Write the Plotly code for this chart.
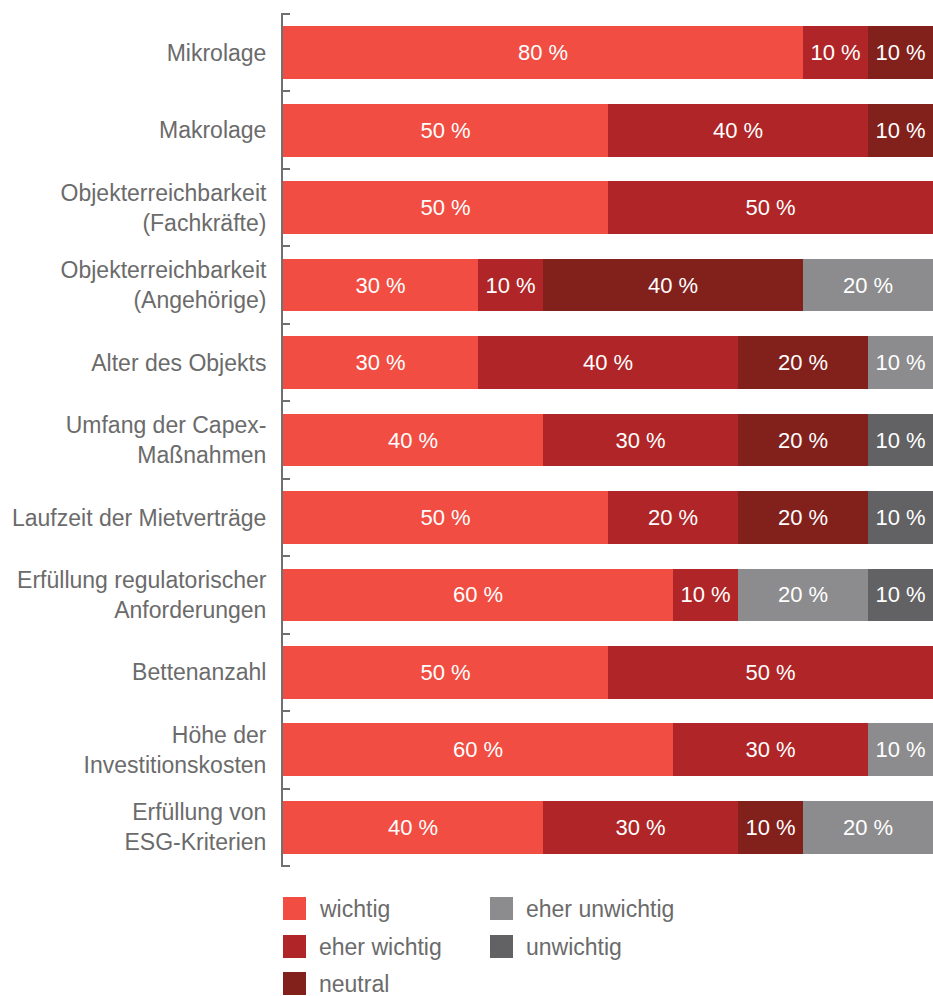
import plotly.graph_objects as go

categories = [
    "Mikrolage",
    "Makrolage",
    "Objekterreichbarkeit<br>(Fachkräfte)",
    "Objekterreichbarkeit<br>(Angehörige)",
    "Alter des Objekts",
    "Umfang der Capex-<br>Maßnahmen",
    "Laufzeit der Mietverträge",
    "Erfüllung regulatorischer<br>Anforderungen",
    "Bettenanzahl",
    "Höhe der<br>Investitionskosten",
    "Erfüllung von<br>ESG-Kriterien",
]

series_names = ["wichtig", "eher wichtig", "neutral", "eher unwichtig", "unwichtig"]

wichtig = [80, 50, 50, 30, 30, 40, 50, 60, 50, 60, 40]
eher_wichtig = [10, 40, 50, 10, 40, 30, 20, 10, 50, 30, 30]
neutral = [10, 10, 0, 40, 20, 20, 20, 0, 0, 0, 10]
eher_unwichtig = [0, 0, 0, 20, 10, 0, 0, 20, 0, 10, 20]
unwichtig = [0, 0, 0, 0, 0, 10, 10, 10, 0, 0, 0]

series_values = [wichtig, eher_wichtig, neutral, eher_unwichtig, unwichtig]
colors = ["#F14D42", "#B02527", "#82201C", "#8C8C8E", "#626264"]

FONT = "Liberation Sans, Arial, sans-serif"
TEXT_GREY = "#6B6B6B"
AXIS_GREY = "#707070"

# plot area in pixels
PL, PR, PT, PB = 283, 933, 13, 867
PW, PH = PR - PL, PB - PT

fig = go.Figure()
for name, vals, col in zip(series_names, series_values, colors):
    xs = [v if v > 0 else None for v in vals]
    fig.add_trace(go.Bar(
        y=categories,
        x=xs,
        orientation="h",
        name=name,
        marker=dict(color=col, line=dict(width=0)),
        text=[f"{v} %" if v > 0 else "" for v in vals],
        textposition="inside",
        insidetextanchor="middle",
        textangle=0,
        textfont=dict(family=FONT, size=22, color="white"),
        showlegend=False,
        hoverinfo="skip",
    ))

fig.update_layout(
    width=933,
    height=996,
    barmode="stack",
    bargap=0.32,
    plot_bgcolor="white",
    paper_bgcolor="white",
    margin=dict(l=PL, r=933 - PR, t=PT, b=996 - PB),
    uniformtext=dict(minsize=22, mode="show"),
    font=dict(family=FONT, color=TEXT_GREY, size=23),
    xaxis=dict(
        range=[0, 100],
        visible=False,
        fixedrange=True,
    ),
    yaxis=dict(
        type="category",
        autorange="reversed",
        tickson="boundaries",
        ticks="inside",
        ticklen=7,
        tickwidth=2,
        tickcolor=AXIS_GREY,
        showline=True,
        linecolor=AXIS_GREY,
        linewidth=2,
        showgrid=False,
        zeroline=False,
        ticklabelstandoff=10,
        tickfont=dict(family=FONT, size=23, color=TEXT_GREY),
    ),
)

# end caps of the category axis
for yy in (-0.5, len(categories) - 0.5):
    fig.add_shape(
        type="line", xref="paper", yref="y",
        x0=-1 / PW, x1=7 / PW, y0=yy, y1=yy,
        line=dict(color=AXIS_GREY, width=2), layer="above",
    )

# Legend drawn as colored squares with labels in two columns
legend_cols = [(0, 1, 2), (3, 4)]
col_x = [283, 490]
row_y = [897, 935, 972]
sq = 23
for ci, idxs in enumerate(legend_cols):
    for ri, idx in enumerate(idxs):
        x0 = col_x[ci]
        y0 = row_y[ri]
        fig.add_shape(
            type="rect", xref="paper", yref="paper",
            x0=(x0 - PL) / PW, x1=(x0 + sq - PL) / PW,
            y0=(PB - y0) / PH, y1=(PB - y0 - sq) / PH,
            fillcolor=colors[idx], line=dict(width=0), layer="above",
        )
        fig.add_annotation(
            xref="paper", yref="paper",
            x=(x0 + 35 - PL) / PW, y=(PB - y0 - sq / 2) / PH,
            text=series_names[idx], showarrow=False,
            xanchor="left", yanchor="middle", borderpad=0,
            font=dict(family=FONT, size=23, color=TEXT_GREY),
        )

fig.write_html("out.html")
